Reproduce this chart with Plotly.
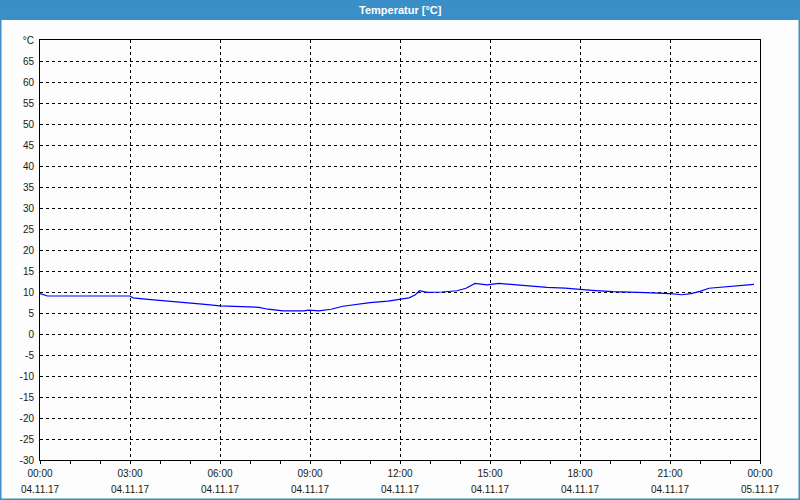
import plotly.graph_objects as go

# ---- data ----
times = [
    "2017-11-04 00:00", "2017-11-04 00:15", "2017-11-04 03:00", "2017-11-04 03:06",
    "2017-11-04 03:36", "2017-11-04 04:24", "2017-11-04 05:00", "2017-11-04 05:30",
    "2017-11-04 06:00", "2017-11-04 06:36", "2017-11-04 07:18", "2017-11-04 07:36",
    "2017-11-04 08:06", "2017-11-04 08:48", "2017-11-04 08:57", "2017-11-04 09:18",
    "2017-11-04 09:42", "2017-11-04 10:06", "2017-11-04 10:30", "2017-11-04 11:00",
    "2017-11-04 11:36", "2017-11-04 12:00", "2017-11-04 12:18", "2017-11-04 12:30",
    "2017-11-04 12:39", "2017-11-04 12:54", "2017-11-04 13:24", "2017-11-04 13:54",
    "2017-11-04 14:12", "2017-11-04 14:30", "2017-11-04 14:54", "2017-11-04 15:18",
    "2017-11-04 15:42", "2017-11-04 16:18", "2017-11-04 16:54", "2017-11-04 17:30",
    "2017-11-04 17:54", "2017-11-04 18:24", "2017-11-04 19:06", "2017-11-04 19:48",
    "2017-11-04 20:12", "2017-11-04 21:00", "2017-11-04 21:24", "2017-11-04 21:42",
    "2017-11-04 22:00", "2017-11-04 22:18", "2017-11-04 22:54", "2017-11-04 23:30",
    "2017-11-04 23:48",
]
temps = [
    9.6, 9.05, 9.05, 8.6,
    8.25, 7.8, 7.5, 7.05,
    6.7, 6.5, 6.35, 5.9,
    5.5, 5.5, 5.7, 5.5,
    5.9, 6.6, 7.05, 7.45,
    7.85, 8.3, 8.6, 9.3,
    10.3, 9.9, 10.0, 10.3,
    10.9, 12.05, 11.7, 12.05,
    11.8, 11.5, 11.1, 10.9,
    10.6, 10.4, 10.1, 10.0,
    9.85, 9.6, 9.35, 9.6,
    10.15, 10.9, 11.3, 11.6,
    11.8,
]
x_range = ["2017-11-04 00:00", "2017-11-05 00:00"]
x_ticks = ["2017-11-04 00:00", "2017-11-04 03:00", "2017-11-04 06:00", "2017-11-04 09:00",
           "2017-11-04 12:00", "2017-11-04 15:00", "2017-11-04 18:00", "2017-11-04 21:00",
           "2017-11-05 00:00"]
x_time_labels = ["00:00", "03:00", "06:00", "09:00", "12:00", "15:00", "18:00", "21:00", "00:00"]
x_date_labels = ["04.11.17"] * 8 + ["05.11.17"]
y_ticks = list(range(-30, 71, 5))
y_labels = [str(v) for v in y_ticks[:-1]] + ["°C"]
title = "Temperatur [°C]"

FONT = "Liberation Sans"
BLUE = "#3A8FC7"
BG = "#FCFDFC"
W, H = 800, 500
L, R, T, B = 40, 40, 40, 40
pw, ph = W - L - R, H - T - B
TXT = "#1a1a10"

fig = go.Figure()
fig.add_trace(go.Scatter(x=times, y=temps, mode="lines",
                         line=dict(color="#0000FF", width=1.2), showlegend=False,
                         hoverinfo="skip"))

axis_common = dict(showline=True, linecolor="black", linewidth=1, mirror=True,
                   showgrid=True, gridcolor="black", gridwidth=1, griddash="3px,3px",
                   zeroline=False, automargin=False,
                   tickfont=dict(family=FONT, size=10, color=TXT))

fig.update_layout(
    width=W, height=H,
    margin=dict(l=L, r=R, t=T, b=B, autoexpand=False),
    paper_bgcolor=BG, plot_bgcolor=BG,
    xaxis=dict(type="date", range=x_range, tickvals=x_ticks, ticktext=x_time_labels,
               ticks="", ticklabelstandoff=4,
               minor=dict(dtick=3600000, ticks="outside", ticklen=3, tickcolor="black",
                          showgrid=False),
               **axis_common),
    xaxis2=dict(type="date", range=x_range, tickvals=x_ticks, ticktext=x_date_labels,
                overlaying="x", side="bottom", anchor="y", ticks="", ticklabelstandoff=22,
                showline=False, showgrid=False, zeroline=False, automargin=False,
                tickfont=dict(family=FONT, size=10, color=TXT)),
    yaxis=dict(range=[-30, 70], tickvals=y_ticks, ticktext=y_labels, ticks="",
               ticklabelstandoff=3, **axis_common),
)

# invisible anchor so the date axis is drawn
fig.add_trace(go.Scatter(x=x_range, y=[None, None], xaxis="x2", mode="lines",
                         showlegend=False, hoverinfo="skip"))

# title bar and window border (paper coordinates relative to plot area)
def px_x(px):
    return (px - L) / pw

def px_y(py):
    return 1 - (py - T) / ph

fig.add_shape(type="rect", xref="paper", yref="paper",
              x0=px_x(0), x1=px_x(W), y0=px_y(20), y1=px_y(0),
              fillcolor=BLUE, line=dict(width=0), layer="above")
fig.add_shape(type="rect", xref="paper", yref="paper",
              x0=px_x(0.75), x1=px_x(W - 0.75), y0=px_y(H - 0.75), y1=px_y(0),
              fillcolor="rgba(0,0,0,0)", line=dict(color=BLUE, width=1.5), layer="above")
fig.add_annotation(text="<b>" + title + "</b>", xref="paper", yref="paper",
                   x=px_x(W / 2), y=px_y(10), showarrow=False,
                   xanchor="center", yanchor="middle",
                   font=dict(family=FONT, size=11, color="white"))

fig.write_html("out.html")
